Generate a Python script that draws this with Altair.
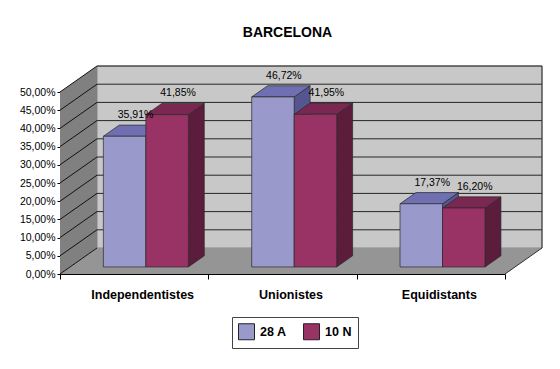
import altair as alt
import pandas as pd

# ---- data ----
categories = ["Independentistes", "Unionistes", "Equidistants"]
series = ["28 A", "10 N"]
values_28A = [35.91, 46.72, 17.37]
values_10N = [41.85, 41.95, 16.20]
y_ticks = [0, 5, 10, 15, 20, 25, 30, 35, 40, 45, 50]

# ---- geometry (in data units of the scales) ----
Y_MAX = 50
N_CAT = len(categories)
DX = 37 / 445 * N_CAT      # depth vector, x component (band units)
DY = 26 / 182 * Y_MAX      # depth vector, y component (percent units)
Z_FRONT, Z_BACK = 0.27, 0.70
BAR_W = 0.2865
BAR_GAP = 0.225

blue, blue_top, blue_side = "#9999CC", "#6F6FB2", "#55558F"
red, red_top, red_side = "#993366", "#7A2852", "#5C1C3C"
edge = "#2a2a2a"

FONT = "Liberation Sans"

xs = alt.Scale(domain=[0, N_CAT], nice=False, zero=False)
ys = alt.Scale(domain=[0, Y_MAX], nice=False)

cat_expr = " : ".join(
    f"datum.value == {i + 0.5} ? '{c}'" for i, c in enumerate(categories)
) + " : ''"

x_axis = alt.Axis(
    values=[i * 0.5 for i in range(2 * N_CAT + 1)],
    labelExpr=cat_expr,
    title=None, grid=False,
    domainColor="black", domainWidth=1,
    tickColor="black", tickSize=5,
    tickOpacity={"condition": {"test": "datum.value % 1 === 0", "value": 1}, "value": 0},
    labelFont=FONT, labelFontSize=12.5, labelFontWeight="bold", labelColor="black",
    labelPadding=9, labelOffset=8, labelOverlap=False, labelFlush=False, labelBound=False,
)
y_axis = alt.Axis(
    values=y_ticks,
    labelExpr="replace(format(datum.value, '.2f'), '.', ',') + '%'",
    title=None, grid=False,
    domainColor="black", domainWidth=1,
    tickColor="black", tickSize=3,
    labelFont=FONT, labelFontSize=10.5, labelColor="black", labelPadding=2,
)


def X(f):
    return alt.X(f, type="quantitative", scale=xs, axis=x_axis)


def Y(f):
    return alt.Y(f, type="quantitative", scale=ys, axis=y_axis)


# ---- walls ----
back_wall = alt.Chart(pd.DataFrame({"x": [DX], "x2": [N_CAT + DX], "y": [DY], "y2": [Y_MAX + DY]})).mark_rect(
    fill="#C8C8C8", stroke="#777777", strokeWidth=0.8
).encode(x=X("x"), x2="x2", y=Y("y"), y2="y2")

side_wall = alt.Chart(pd.DataFrame({"x": [0, DX], "y": [Y_MAX, Y_MAX + DY], "y2": [0, DY]})).mark_area(
    orient="vertical", fill="#808080"
).encode(x=X("x"), y=Y("y"), y2="y2")

floor = alt.Chart(pd.DataFrame({"y": [0, DY], "x": [0, DX], "x2": [N_CAT, N_CAT + DX]})).mark_area(
    orient="horizontal", fill="#959595"
).encode(y=Y("y"), x=X("x"), x2="x2")

grid_back = alt.Chart(pd.DataFrame({"v": [t + DY for t in y_ticks if t > 0], "x": DX, "x2": N_CAT + DX})).mark_rule(
    color="#262626", strokeWidth=1
).encode(y=Y("v"), x=X("x"), x2="x2")

grid_side = alt.Chart(pd.DataFrame({
    "x": [0.0] * len(y_ticks), "x2": [DX] * len(y_ticks),
    "y": y_ticks, "y2": [t + DY for t in y_ticks],
})).mark_rule(color="#111111", strokeWidth=1).encode(x=X("x"), x2="x2", y=Y("y"), y2="y2")

edges = alt.Chart(pd.DataFrame({
    "x": [N_CAT, N_CAT + DX], "x2": [N_CAT + DX, N_CAT + DX],
    "y": [0, DY], "y2": [DY, Y_MAX + DY],
})).mark_rule(color="#333333", strokeWidth=1).encode(x=X("x"), x2="x2", y=Y("y"), y2="y2")

# ---- bars ----
fx, fy = Z_FRONT * DX, Z_FRONT * DY
bx, by = Z_BACK * DX, Z_BACK * DY

fronts, tops, sides, labels = [], [], [], []
for s, vals in enumerate([values_28A, values_10N]):
    for i, v in enumerate(vals):
        bar = f"{s}-{i}"
        xl = i + BAR_GAP + s * BAR_W
        xr = xl + BAR_W
        fronts.append({"series": series[s], "s": s, "x": xl + fx, "x2": xr + fx, "y": fy, "y2": v + fy})
        tops.append({"bar": bar, "s": s, "y": v + fy, "x": xl + fx, "x2": xr + fx})
        tops.append({"bar": bar, "s": s, "y": v + by, "x": xl + bx, "x2": xr + bx})
        sides.append({"bar": bar, "s": s, "x": xr + fx, "y": v + fy, "y2": fy})
        sides.append({"bar": bar, "s": s, "x": xr + bx, "y": v + by, "y2": by})
        labels.append({"x": (xl + xr) / 2 + (fx + bx) / 2 + 0.02, "y": v + by,
                       "label": f"{v:.2f}".replace(".", ",") + "%"})

fronts = pd.DataFrame(fronts)
tops = pd.DataFrame(tops)
sides = pd.DataFrame(sides)
labels = pd.DataFrame(labels)

color = alt.Color(
    "series:N",
    scale=alt.Scale(domain=series, range=[blue, red]),
    legend=alt.Legend(
        title=None, orient="none", legendX=172, legendY=225, direction="horizontal",
        symbolType="square", symbolSize=256, symbolStrokeColor="#222222", symbolStrokeWidth=1,
        labelFont=FONT, labelFontSize=12.5, labelFontWeight="bold", labelColor="black",
        labelOffset=5, columnPadding=14, padding=6,
        strokeColor="#444444", fillColor="white",
    ),
)

bar_layers = []
for s, (ctop, cside) in enumerate([(blue_top, blue_side), (red_top, red_side)]):
    side_l = alt.Chart(sides[sides.s == s]).mark_area(
        orient="vertical", fill=cside, stroke=edge, strokeWidth=0.7
    ).encode(x=X("x"), y=Y("y"), y2="y2", detail="bar:N")
    top_l = alt.Chart(tops[tops.s == s]).mark_area(
        orient="horizontal", fill=ctop, stroke=edge, strokeWidth=0.7
    ).encode(y=Y("y"), x=X("x"), x2="x2", detail="bar:N")
    front_l = alt.Chart(fronts[fronts.s == s]).mark_rect(
        stroke=edge, strokeWidth=0.7
    ).encode(x=X("x"), x2="x2", y=Y("y"), y2="y2", color=color)
    bar_layers += [side_l, top_l, front_l]

text_l = alt.Chart(labels).mark_text(
    font=FONT, fontSize=10.5, color="black", baseline="bottom", dy=-5
).encode(x=X("x"), y=Y("y"), text="label:N")

chart = alt.layer(
    back_wall, side_wall, floor, grid_back, grid_side, edges, *bar_layers, text_l
).properties(
    width=445, height=182,
    title=alt.TitleParams("BARCELONA", font=FONT, fontSize=14, fontWeight="bold",
                          color="black", anchor="middle", offset=26, dx=5),
    autosize=alt.AutoSizeParams(type="none"),
    padding={"left": 52, "top": 84, "right": 47, "bottom": 87},
    background="white",
).configure_view(stroke=None)

chart.save("out.html", embed_options={"renderer": "svg", "actions": False})
